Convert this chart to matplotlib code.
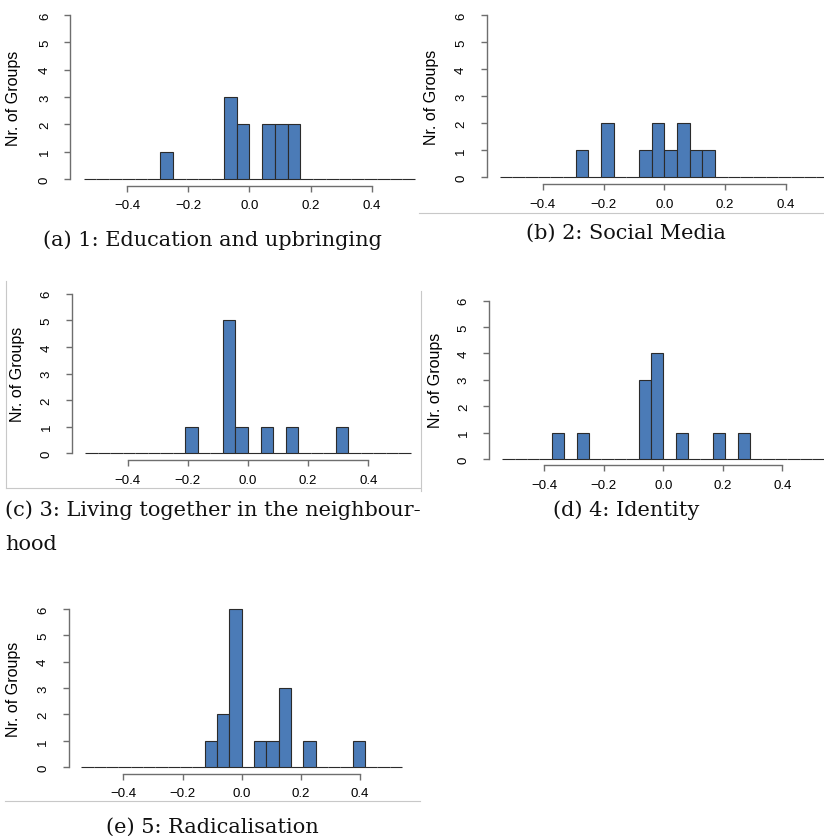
import numpy as np
import matplotlib
matplotlib.use("Agg")
import matplotlib.pyplot as plt
from matplotlib.lines import Line2D

# ---------------- data ----------------
# histogram bins: width 1/24, from -13/24 to 13/24 (26 bins)
bin_edges = np.arange(-13, 14) / 24.0

# counts per bin (left to right)
counts_education = [0]*6 + [1] + [0]*4 + [3, 2, 0, 2, 2, 2] + [0]*9
counts_social    = [0]*6 + [1, 0, 2, 0, 0, 1, 2, 1, 2, 1, 1] + [0]*9
counts_living    = [0]*8 + [1, 0, 0, 5, 1, 0, 1, 0, 1, 0, 0, 0, 1] + [0]*5
counts_identity  = [0]*4 + [1, 0, 1, 0, 0, 0, 0, 3, 4, 0, 1, 0, 0, 1, 0, 1] + [0]*6
counts_radical   = [0]*10 + [1, 2, 6, 0, 1, 1, 3, 0, 1, 0, 0, 0, 1] + [0]*3

captions = ["(a) 1: Education and upbringing",
            "(b) 2: Social Media",
            "(c) 3: Living together in the neighbour-\nhood",
            "(d) 4: Identity",
            "(e) 5: Radicalisation"]
xticks = [-0.4, -0.2, 0.0, 0.2, 0.4]
xticklabels = ["\u22120.4", "\u22120.2", "0.0", "0.2", "0.4"]
yticks = [0, 1, 2, 3, 4, 5, 6]
ylabel = "Nr. of Groups"

# ---------------- layout ----------------
FW, FH = 824, 837
fig = plt.figure(figsize=(FW/100, FH/100), dpi=100)
fig.patch.set_facecolor("white")

# (left px, top px, width px, height px, ylabel x px)
panels = [
    (counts_education, (70.4, 9.6, 358.0, 177.0, 21.5)),
    (counts_social,    (486.5, 9.5, 355.7, 175.3, 439.0)),
    (counts_living,    (72.0, 288.3, 352.0, 172.4, 25.0)),
    (counts_identity,  (489.3, 295.3, 348.0, 171.0, 443.0)),
    (counts_radical,   (68.6, 603.6, 346.3, 171.0, 21.0)),
]

bar_color = "#4b7bb7"
axis_gray = "#6e6e6e"
sans = ["Liberation Sans", "DejaVu Sans"]

for counts, (L, T, W, H, ylx) in panels:
    ax = fig.add_axes([L/FW, 1 - (T+H)/FH, W/FW, H/FH])
    ax.bar(bin_edges[:-1], counts, width=1/24, align="edge",
           color=bar_color, edgecolor="#2b2b2b", linewidth=0.8)
    ax.set_xlim(-0.585, 0.585)
    ax.set_ylim(-0.24, 6.24)
    ax.patch.set_alpha(0)
    for s in ["top", "right"]:
        ax.spines[s].set_visible(False)
    ax.spines["left"].set_bounds(0, 6)
    ax.spines["bottom"].set_bounds(-0.4, 0.4)
    for s in ["left", "bottom"]:
        ax.spines[s].set_color(axis_gray)
        ax.spines[s].set_linewidth(1.0)
    ax.set_xticks(xticks)
    ax.set_xticklabels(xticklabels, fontfamily=sans, fontsize=9.5)
    ax.set_yticks(yticks)
    ax.set_yticklabels([str(v) for v in yticks], fontfamily=sans,
                       fontsize=9.5, rotation=90, va="center")
    ax.tick_params(axis="both", direction="out", length=4, width=1.0,
                   color=axis_gray, labelcolor="#000000")
    ax.tick_params(axis="x", pad=6)
    ax.tick_params(axis="y", pad=10)
    ax.set_ylabel(ylabel, fontfamily=sans, fontsize=11.5, color="#000000")
    ax.yaxis.set_label_coords((ylx - L) / W, 0.5)

# ---------------- captions ----------------
serif = ["DejaVu Serif"]
cap_kw = dict(fontfamily=serif, fontsize=15, color="#111111")
fig.text(212/FW, 1 - 240/FH, captions[0], ha="center", va="center", **cap_kw)
fig.text(626/FW, 1 - 233/FH, captions[1], ha="center", va="center", **cap_kw)
line1, line2 = captions[2].split("\n")
fig.text(5/FW, 1 - 510/FH, line1, ha="left", va="center", **cap_kw)
fig.text(5/FW, 1 - 545/FH, line2, ha="left", va="center", **cap_kw)
fig.text(626/FW, 1 - 510/FH, captions[3], ha="center", va="center", **cap_kw)
fig.text(212/FW, 1 - 827/FH, captions[4], ha="center", va="center", **cap_kw)

# ---------------- thin frame artefacts ----------------
frame = "#c8c8c8"
def hline(y, x0, x1):
    fig.add_artist(Line2D([x0/FW, x1/FW], [1 - y/FH, 1 - y/FH], color=frame, lw=0.8))
def vline(x, y0, y1):
    fig.add_artist(Line2D([x/FW, x/FW], [1 - y0/FH, 1 - y1/FH], color=frame, lw=0.8))

hline(214, 419, 824)
vline(6, 282, 489)
hline(489, 6, 420)
vline(421, 292, 492)
hline(802, 5, 420)

fig.savefig("out.png", dpi=100, facecolor="white")
